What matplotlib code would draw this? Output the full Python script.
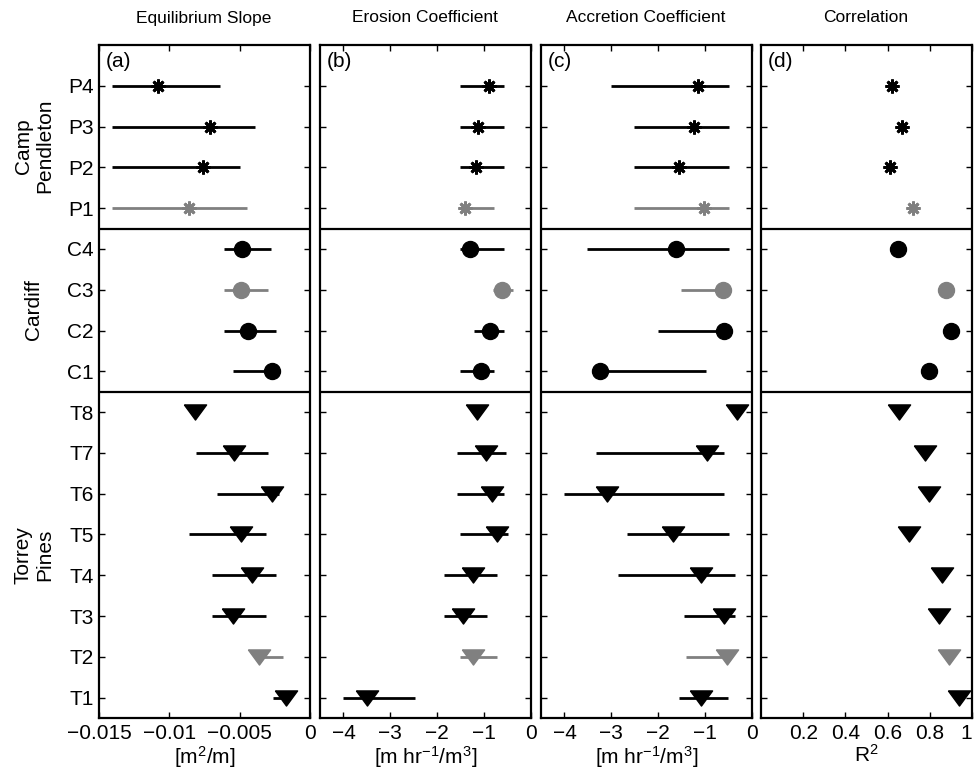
import numpy as np
import matplotlib
matplotlib.use("Agg")
import matplotlib.pyplot as plt

plt.rcParams["font.family"] = ["Liberation Sans", "DejaVu Sans"]
plt.rcParams["mathtext.default"] = "regular"

# rows from top to bottom
sites = ["P4", "P3", "P2", "P1", "C4", "C3", "C2", "C1",
         "T8", "T7", "T6", "T5", "T4", "T3", "T2", "T1"]
gray_sites = ["P1", "C3", "T2"]

# (a) equilibrium slope [m^2/m]
slope = [-0.0108, -0.0071, -0.0076, -0.0086, -0.0048, -0.0049, -0.0044, -0.0027,
         -0.0082, -0.0054, -0.0027, -0.0049, -0.0041, -0.0055, -0.0036, -0.0017]
slope_lo = [-0.0141, -0.0141, -0.0141, -0.0141, -0.0061, -0.0061, -0.0061, -0.0055,
            -0.0082, -0.0081, -0.0066, -0.0086, -0.0070, -0.0070, -0.0038, -0.0026]
slope_hi = [-0.0064, -0.0039, -0.0050, -0.0045, -0.0028, -0.0030, -0.0024, -0.0027,
            -0.0082, -0.0030, -0.0022, -0.0031, -0.0024, -0.0031, -0.0019, -0.0014]

# (b) erosion coefficient
erosion = [-0.89, -1.14, -1.18, -1.41, -1.30, -0.62, -0.87, -1.06,
           -1.16, -0.95, -0.835, -0.735, -1.235, -1.46, -1.235, -3.50]
erosion_lo = [-1.52, -1.52, -1.52, -1.52, -1.52, -0.80, -1.21, -1.52,
              -1.16, -1.57, -1.57, -1.52, -1.86, -1.86, -1.52, -4.02]
erosion_hi = [-0.585, -0.585, -0.585, -0.785, -0.585, -0.38, -0.585, -0.785,
              -1.16, -0.535, -0.585, -0.48, -0.735, -0.93, -0.735, -2.48]

# (c) accretion coefficient
accretion = [-1.16, -1.24, -1.56, -1.02, -1.63, -0.61, -0.59, -3.25,
             -0.32, -0.95, -3.09, -1.68, -1.08, -0.59, -0.54, -1.08]
accretion_lo = [-3.00, -2.52, -2.52, -2.52, -3.52, -1.51, -2.01, -3.25,
                -0.32, -3.32, -4.00, -2.66, -2.86, -1.46, -1.41, -1.56]
accretion_hi = [-0.49, -0.49, -0.49, -0.49, -0.49, -0.61, -0.59, -0.985,
                -0.32, -0.59, -0.59, -0.49, -0.36, -0.36, -0.45, -0.51]

# (d) correlation R^2
r2 = [0.621, 0.669, 0.610, 0.719, 0.650, 0.875, 0.899, 0.797,
      0.656, 0.776, 0.797, 0.703, 0.860, 0.843, 0.891, 0.938]

titles = ["Equilibrium Slope", "Erosion Coefficient", "Accretion Coefficient", "Correlation"]
xlabels = [r"[m$^{2}$/m]", r"[m hr$^{-1}$/m$^{3}$]", r"[m hr$^{-1}$/m$^{3}$]", r"R$^{2}$"]
panel_tags = ["(a)", "(b)", "(c)", "(d)"]

FS = 15
y = np.arange(len(sites), 0, -1)
colors = ["#808080" if s in gray_sites else "black" for s in sites]

# wide, flat downward triangle like the MATLAB one
tri_down = [(-1, 0.68), (1, 0.68), (0, -0.68), (-1, 0.68)]


def marker_for(site):
    if site.startswith("P"):
        return dict(marker=(8, 2, 0), markersize=10, markeredgewidth=2)
    if site.startswith("C"):
        return dict(marker="o", markersize=11.5)
    return dict(marker=tri_down, markersize=16)


fig = plt.figure(figsize=(9.74, 7.76), dpi=100)
lefts = [99, 320, 541, 761]
axes = []
for left in lefts:
    ax = fig.add_axes([left / 974, 1 - 718 / 776, 211 / 974, (718 - 45) / 776])
    axes.append(ax)

panels = [
    (slope, slope_lo, slope_hi, (-0.015, 0), [-0.015, -0.01, -0.005, 0], ["\u22120.015", "\u22120.01", "\u22120.005", "0"]),
    (erosion, erosion_lo, erosion_hi, (-4.5, 0), [-4, -3, -2, -1, 0], ["\u22124", "\u22123", "\u22122", "\u22121", "0"]),
    (accretion, accretion_lo, accretion_hi, (-4.5, 0), [-4, -3, -2, -1, 0], ["\u22124", "\u22123", "\u22122", "\u22121", "0"]),
    (r2, None, None, (0, 1), [0.2, 0.4, 0.6, 0.8, 1], ["0.2", "0.4", "0.6", "0.8", "1"]),
]

for i, (ax, (vals, lo, hi, xlim, ticks, ticklabels)) in enumerate(zip(axes, panels)):
    for k, site in enumerate(sites):
        if lo is not None and hi[k] > lo[k]:
            ax.plot([lo[k], hi[k]], [y[k], y[k]], color=colors[k], lw=2.0,
                    solid_capstyle="butt", zorder=2)
        ax.plot(vals[k], y[k], linestyle="none", color=colors[k],
                markerfacecolor=colors[k], markeredgecolor=colors[k],
                zorder=3, **marker_for(site))
    ax.axhline(12.5, color="black", lw=1.6)
    ax.axhline(8.5, color="black", lw=1.6)
    ax.set_xlim(*xlim)
    ax.set_ylim(0.5, 17)
    ax.set_xticks(ticks)
    ax.set_xticklabels(ticklabels)
    ax.set_yticks(y)
    if i == 0:
        ax.set_yticklabels(sites)
    else:
        ax.set_yticklabels([])
    ax.tick_params(direction="in", top=True, right=True, length=4, width=1,
                   labelsize=FS, pad=4)
    for sp in ax.spines.values():
        sp.set_linewidth(1.6)
    ax.set_xlabel(xlabels[i], fontsize=FS, labelpad=1)
    ax.text(0.03, 0.99, panel_tags[i], transform=ax.transAxes, ha="left",
            va="top", fontsize=FS)
    fig.text((lefts[i] + 105) / 974, 1 - 18 / 776, titles[i], ha="center",
             va="center", fontsize=12.5)

# keep the last "1" of panel (d) inside the figure
axes[3].get_xticklabels()[-1].set_horizontalalignment("right")

# group labels on the left
group_labels = [("Camp\nPendleton", 146), ("Cardiff", 310), ("Torrey\nPines", 555)]
for label, ypix in group_labels:
    fig.text(34 / 974, 1 - ypix / 776, label, rotation=90, ha="center",
             va="center", fontsize=FS, linespacing=1.15)

fig.savefig("out.png", dpi=100)
